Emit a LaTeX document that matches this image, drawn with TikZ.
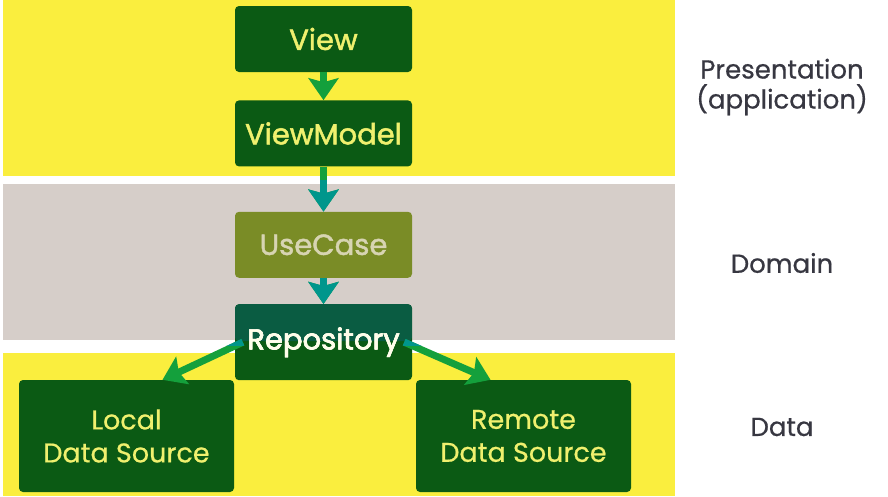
\documentclass[tikz,border=0pt]{standalone}
\usepackage{fontspec}
\setmainfont{Poppins}
\newfontfamily\boxfont{Poppins}[FakeBold=1.6]
\newfontfamily\labelfont{Poppins}[FakeBold=0.6]
\usetikzlibrary{arrows.meta, positioning}
\definecolor{bandyellow}{RGB}{250,238,62}
\definecolor{bandgray}{RGB}{214,206,201}
\definecolor{boxgreen}{RGB}{11,90,20}
\definecolor{boxtext}{RGB}{240,240,110}
\definecolor{caseolive}{RGB}{122,140,38}
\definecolor{casetext}{RGB}{215,212,178}
\definecolor{repoteal}{RGB}{10,92,66}
\definecolor{flowgreen}{RGB}{20,160,60}
\definecolor{flowteal}{RGB}{0,150,140}
\definecolor{labelgray}{RGB}{55,55,65}

\begin{document}
\begin{tikzpicture}[x=1pt, y=-1pt,
        layer/.style={rectangle, draw=none, rounded corners=4pt, align=center, minimum width=177pt, minimum height=66pt, fill=boxgreen, text=boxtext, font=\fontsize{29}{30}\boxfont},
        source/.style={layer, minimum width=215pt, minimum height=112pt, font=\fontsize{27}{33}\labelfont},
        side/.style={align=center, text=labelgray, font=\fontsize{26}{30}\labelfont},
        flow/.style={draw, -{Stealth[width=30pt, length=22pt, inset=4pt]}, line width=7pt, flowgreen},
        node distance=28pt and 28pt
        ]

        % Bands
        \fill[white] (0,0) rectangle (888,496);
        \fill[bandyellow] (3,0) rectangle (675,176);
        \fill[bandgray] (3,184) rectangle (675,340);
        \fill[bandyellow] (3,353) rectangle (675,496);

        % Nodes
        \node (view) [layer] at (323.5,39) {View};
        \node (viewmodel) [layer, below=of view] {ViewModel};
        \node (usecase) [layer, below=45pt of viewmodel, fill=caseolive, text=casetext] {UseCase};
        \node (repo) [layer, below=26pt of usecase, minimum height=76pt, text=white!92!yellow,
            path picture={\fill[repoteal] (path picture bounding box.north west) rectangle ([yshift=-37pt]path picture bounding box.north east);}] {Repository};
        \node (local) [source] at (126.5,436) {Local\\Data Source};
        \node (remote) [source] at (523.5,436) {Remote\\Data Source};

        \node (presentation) [side] at (782,87) {Presentation\\(application)};
        \node (domain) [side] at (782,263) {Domain};
        \node (data) [side] at (782,427) {Data};

        % Arrows
        \draw [flow] (view) -- (viewmodel);
        \draw [flow] (viewmodel) -- (usecase);
        \draw [flow] (usecase) -- (repo);
        \draw [flow] ([xshift=8pt]repo.west) -- ([xshift=36pt]local.north);
        \draw [flow] ([xshift=-8pt]repo.east) -- ([xshift=-33pt]remote.north);

        \begin{scope}
            \clip (3,180) rectangle (675,345);
            \draw [flow, flowteal] (viewmodel) -- (usecase);
            \draw [flow, flowteal] (usecase) -- (repo);
            \draw [flow, flowteal] ([xshift=8pt]repo.west) -- ([xshift=36pt]local.north);
            \draw [flow, flowteal] ([xshift=-8pt]repo.east) -- ([xshift=-33pt]remote.north);
        \end{scope}

        \node [layer, fill=none, text=white!92!yellow, minimum height=76pt] at (repo) {Repository};

\end{tikzpicture}
\end{document}
